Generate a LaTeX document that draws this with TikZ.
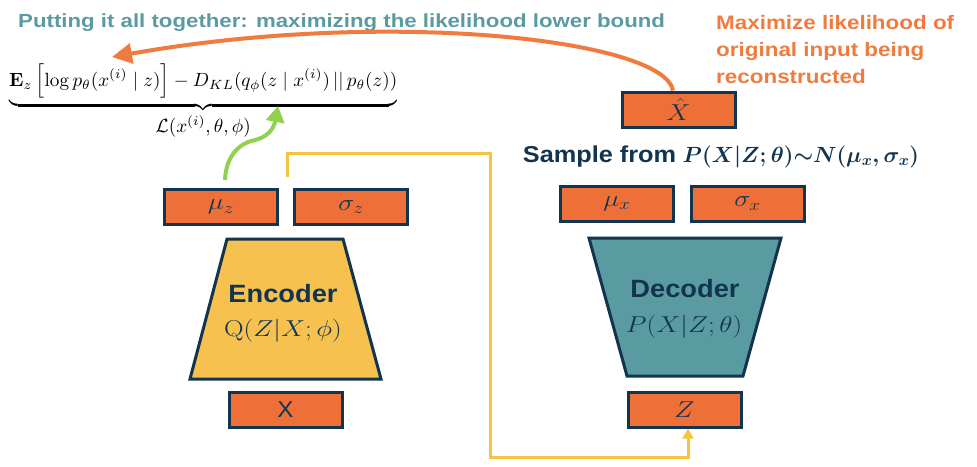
\RequirePackage{fix-cm}
\documentclass[tikz,border=0pt]{standalone}
\usepackage{amsmath,amssymb}
\usepackage[no-math]{fontspec}
\setmainfont{Liberation Sans}
\usetikzlibrary{arrows.meta}
\definecolor{navy}{HTML}{12344F}
\definecolor{boxorange}{HTML}{EE7038}
\definecolor{txtorange}{HTML}{F07B3F}
\definecolor{teal}{HTML}{5A9BA2}
\definecolor{encyellow}{HTML}{F6C14F}
\definecolor{lgreen}{HTML}{92D050}
\definecolor{lineyellow}{HTML}{F6C343}
\newcommand{\sx}[2][1.18]{\scalebox{#1}[1]{#2}}
\newcommand{\samplemath}{\mbox{\fontsize{22}{26}\selectfont\boldmath$P(X|Z;\theta){\sim}N(\mu_x,\sigma_x)$}}
\tikzset{
  obox/.style={draw=navy, line width=3pt, fill=boxorange, text=navy, minimum width=113pt, minimum height=35pt, inner sep=0pt, font=\fontsize{23}{26}\selectfont},
  trap/.style={draw=navy, line width=3pt, line join=miter},
  lbl/.style={text=navy, inner sep=0pt},
  notetxt/.style={anchor=base west, text=txtorange, inner sep=0pt, font=\bfseries\fontsize{19.5}{22}\selectfont},
}
\begin{document}
\begin{tikzpicture}[x=1pt,y=-1pt]
\useasboundingbox (0,0) rectangle (977,466);
% title
\node[anchor=base west, text=teal, inner sep=0pt, font=\bfseries\fontsize{19}{22}\selectfont] (title) at (18,27) {\sx[1.17]{Putting it all together: maximizing the likelihood lower bound}};
% orange note
\node[notetxt] (note1) at (716,29) {\sx[1.15]{Maximize likelihood of}};
\node[notetxt] (note2) at (716,56) {\sx[1.15]{original input being}};
\node[notetxt] (note3) at (716,83) {\sx[1.15]{reconstructed}};
% formula
\node[anchor=north west, inner sep=0pt] (elbo) at (9,64) {\resizebox{388pt}{!}{$\underbrace{\mathbf{E}_z\left[\log p_\theta(x^{(i)}\mid z)\right]-D_{KL}(q_\phi(z\mid x^{(i)})\,||\,p_\theta(z))}_{\textstyle\mathcal{L}(x^{(i)},\theta,\phi)}$}};
% encoder
\draw[trap, fill=encyellow] (227,239) -- (343,239) -- (381,379) -- (190,379) -- cycle;
\node[lbl, anchor=base, font=\bfseries\fontsize{25}{28}\selectfont] (enc) at (283,302) {\sx[1.09]{Encoder}};
\node[lbl, anchor=base, font=\fontsize{23}{26}\selectfont] (encf) at (283,336) {\sx{$\mathrm{Q}(Z|X;\phi)$}};
\node[obox] (muz) at (221,207) {\sx{$\mu_z$}};
\node[obox] (sigz) at (351,207) {\sx{$\sigma_z$}};
\node[obox] (X) at (285.5,410) {\sx[1.05]{X}};
% decoder
\draw[trap, fill=teal] (589,238) -- (781,238) -- (743,376) -- (627,376) -- cycle;
\node[lbl, anchor=base, font=\bfseries\fontsize{25}{28}\selectfont] (dec) at (685,297) {\sx[1.09]{Decoder}};
\node[lbl, anchor=base, font=\fontsize{23}{26}\selectfont] (decf) at (684,332) {\sx{$P(X|Z;\theta)$}};
\node[obox] (mux) at (617,203.5) {\sx{$\mu_x$}};
\node[obox] (sigx) at (747.5,203.5) {\sx{$\sigma_x$}};
\node[obox] (Z) at (684.5,409.5) {\sx{$Z$}};
\node[obox] (Xhat) at (678.5,109.5) {\sx{$\hat{X}$}};
\node[lbl, anchor=base, font=\bfseries\fontsize{23}{26}\selectfont] (sample) at (721,162) {\sx[1.1]{Sample from}\ \samplemath};
% connectors
\coordinate (ys) at (287,177);
\coordinate (gs) at (225,180);
\coordinate (gt) at (278,106);
\coordinate (ot) at (112,57);
\draw[lineyellow, line width=3pt, -{Triangle[length=10pt,width=11pt]}] (ys) |- (490,153) |- (688,457) -- (Z.south -| 688,0);
\draw[lgreen, line width=4pt, -{Triangle[length=16pt,width=18pt]}] (gs) .. controls (226,155) and (240,143) .. (255,140) .. controls (268,137) and (274,128) .. (gt);
\draw[txtorange, line width=4pt, -{Triangle[length=20pt,width=20pt]}] (Xhat.north -| 673,0) .. controls (664,40) and (390,8) .. (ot);
\end{tikzpicture}
\end{document}
